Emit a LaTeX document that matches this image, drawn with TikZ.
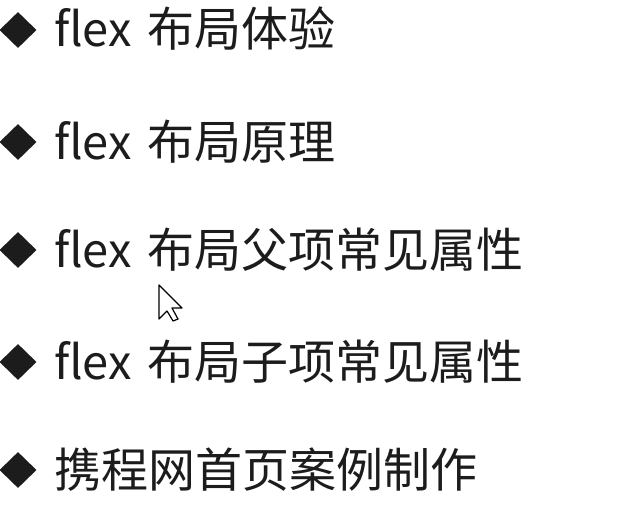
\documentclass[tikz,border=0pt]{standalone}
\usepackage{fontspec}
\setmainfont{Noto Sans CJK SC}
\usetikzlibrary{shapes.geometric}
\definecolor{ink}{HTML}{1C1C1C}
\newcommand{\flexword}{flex\hspace{5pt} }

\begin{document}
\begin{tikzpicture}[x=1pt,y=1pt,
    bullet/.style={diamond, fill=ink, inner sep=0, minimum width=37pt, minimum height=36pt},
    item/.style={anchor=base west, inner sep=0, text=ink, font=\fontsize{47}{50}\selectfont}]
    \useasboundingbox[fill=white] (0,0) rectangle (631,507);
    \node[bullet] (b1) at (18,477) {};
    \node[bullet] (b2) at (18,365) {};
    \node[bullet] (b3) at (18,257) {};
    \node[bullet] (b4) at (18,145) {};
    \node[bullet] (b5) at (18,37) {};
    \node[item] (t1) at (54,460) {\flexword 布局体验};
    \node[item] (t2) at (54,348) {\flexword 布局原理};
    \node[item] (t3) at (54,240) {\flexword 布局父项常见属性};
    \node[item] (t4) at (54,128) {\flexword 布局子项常见属性};
    \node[item] (t5) at (54,20) {携程网首页案例制作};
    % mouse pointer
    \draw[fill=white, line width=1.2pt, line join=round]
        (159,222) -- (159,188) -- (167,196) -- (173,186) -- (178,188)
        -- (172,199) -- (182,199) -- cycle;
\end{tikzpicture}
\end{document}
